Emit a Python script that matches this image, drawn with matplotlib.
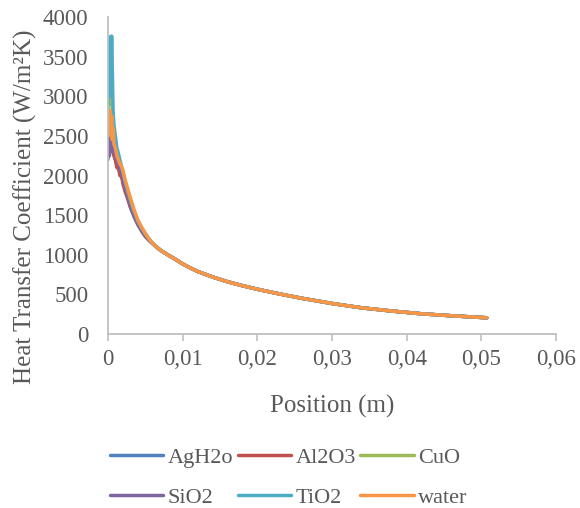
import matplotlib
matplotlib.use('Agg')
import matplotlib.pyplot as plt

plt.rcParams['font.family'] = ['Liberation Serif', 'DejaVu Serif']

# series names and colours (Excel palette)
names = ['AgH2o', 'Al2O3', 'CuO', 'SiO2', 'TiO2', 'water']
colors = ['#4F81BD', '#C0504D', '#9BBB59', '#8064A2', '#4BACC6', '#F79646']

# inlet region (noisy part), position in m
pos_head = [0, 0.0001, 0.0002, 0.0003, 0.0004, 0.0005, 0.0006, 0.0007, 0.0008, 0.001,
            0.0012, 0.0014, 0.0016, 0.0018, 0.002, 0.0023, 0.0026, 0.003, 0.0035,
            0.004, 0.0045, 0.005, 0.0055]
agh2o_head = [2350, 2500, 2400, 2550, 2450, 2380, 2420, 2350, 2300, 2200, 2150, 2080,
              2050, 1980, 1950, 1830, 1740, 1600, 1480, 1380, 1300, 1230, 1180]
al2o3_head = [2300, 2450, 2350, 2500, 2400, 2350, 2400, 2300, 2250, 2200, 2100, 2120,
              2000, 2020, 1900, 1800, 1720, 1610, 1500, 1390, 1310, 1240, 1185]
cuo_head = [2700, 3100, 3500, 2900, 3400, 3000, 2800, 2600, 2500, 2400, 2300, 2250,
            2150, 2100, 2030, 1900, 1800, 1670, 1540, 1420, 1330, 1260, 1195]
sio2_head = [2200, 2500, 2250, 2400, 2350, 2500, 2300, 2450, 2350, 2250, 2200, 2150,
             2100, 2050, 1980, 1850, 1770, 1630, 1510, 1400, 1320, 1250, 1190]
tio2_head = [2900, 3700, 3200, 3750, 3000, 3760, 3300, 2800, 2650, 2500, 2350, 2280,
             2200, 2120, 2050, 1920, 1820, 1690, 1550, 1430, 1340, 1265, 1200]
water_head = [2550, 2800, 2650, 2820, 2500, 2750, 2450, 2600, 2400, 2350, 2250, 2200,
              2150, 2120, 2070, 1950, 1850, 1720, 1570, 1440, 1350, 1270, 1200]

# downstream part, nearly identical for all fluids
pos_tail = [0.006, 0.007, 0.008, 0.009, 0.010, 0.011, 0.012, 0.014, 0.016, 0.018,
            0.020, 0.023, 0.026, 0.030, 0.034, 0.038, 0.042, 0.046, 0.0507]
h_tail = [1140, 1060, 1000, 945, 885, 835, 790, 720, 660, 610,
          565, 505, 450, 385, 330, 290, 255, 230, 205]

heads = [agh2o_head, al2o3_head, cuo_head, sio2_head, tio2_head, water_head]

x_ticks = [0, 0.01, 0.02, 0.03, 0.04, 0.05, 0.06]
x_labels = ['0', '0,01', '0,02', '0,03', '0,04', '0,05', '0,06']
y_ticks = [0, 500, 1000, 1500, 2000, 2500, 3000, 3500, 4000]

txt = '#595959'
grey = '#BFBFBF'

fig = plt.figure(figsize=(5.8, 5.08), dpi=100)
ax = fig.add_axes([0.186, 0.3425, 0.773, 0.624])

lines = {}
for name, col, head in zip(names, colors, heads):
    x = pos_head + pos_tail
    y = head + h_tail
    ln, = ax.plot(x, y, color=col, lw=2.5, label=name, solid_capstyle='round')
    lines[name] = ln

ax.set_xlim(0, 0.06)
ax.set_ylim(0, 4000)
ax.set_xticks(x_ticks)
ax.set_xticklabels(x_labels)
ax.set_yticks(y_ticks)

for s in ['top', 'right']:
    ax.spines[s].set_visible(False)
for s in ['left', 'bottom']:
    ax.spines[s].set_color(grey)
    ax.spines[s].set_linewidth(1.3)

ax.tick_params(axis='x', direction='out', length=5, color=grey, width=1.2,
               labelsize=16.5, labelcolor=txt, pad=6)
ax.tick_params(axis='y', length=0, labelsize=16.5, labelcolor=txt, pad=14)

ax.set_xlabel('Position (m)', fontsize=18, color=txt, labelpad=18)
ax.set_ylabel('Heat Transfer Coefficient (W/m²K)', fontsize=18, color=txt)
ax.yaxis.set_label_coords(-0.157, 0.40)

# Excel fills legend row by row; matplotlib column by column
order = ['AgH2o', 'SiO2', 'Al2O3', 'TiO2', 'CuO', 'water']
leg = fig.legend([lines[n] for n in order], order, ncol=3, frameon=False,
                 loc='upper left', bbox_to_anchor=(110 / 580, 1 - 447 / 508), fontsize=16,
                 handlelength=2.4, handletextpad=0.2, columnspacing=0.2,
                 labelspacing=0.9, borderpad=0, borderaxespad=0)
for t in leg.get_texts():
    t.set_color(txt)

fig.savefig('out.png', dpi=100)
